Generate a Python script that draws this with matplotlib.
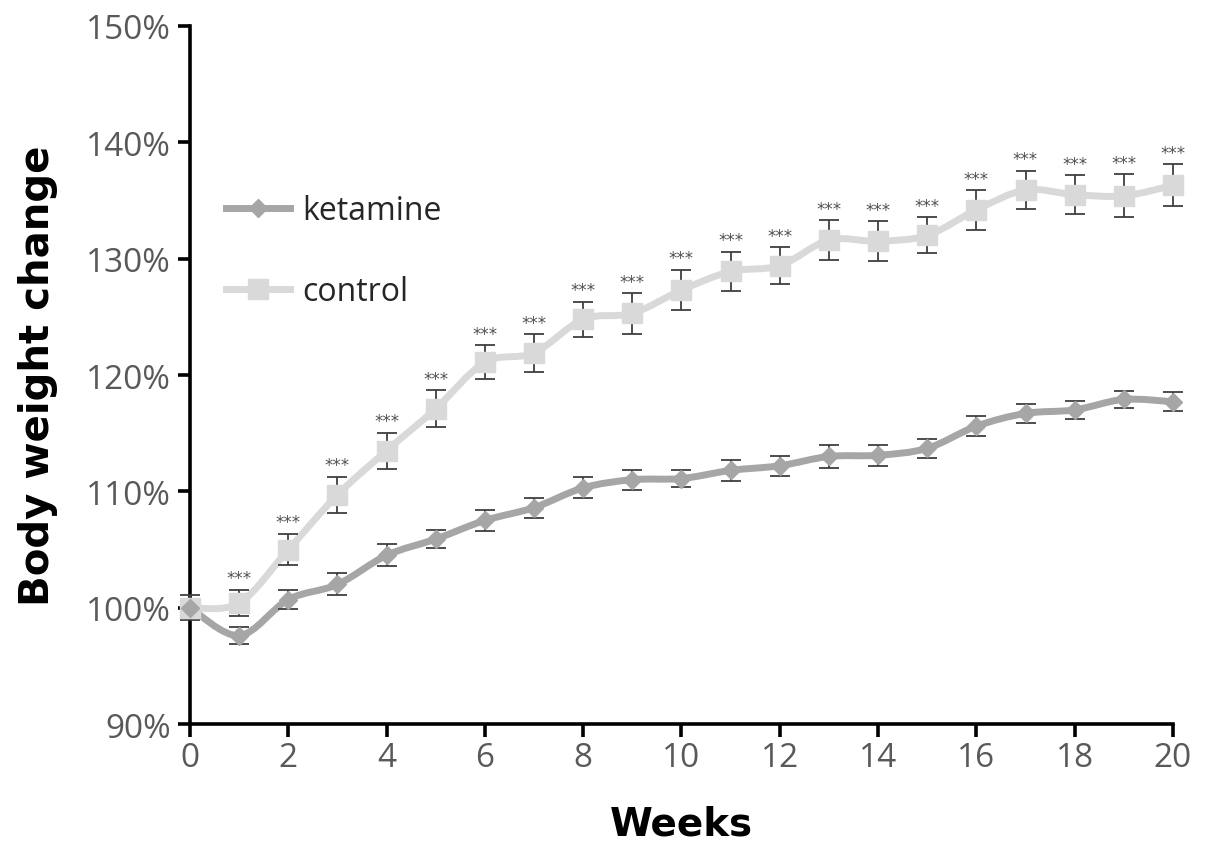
import numpy as np
import matplotlib
matplotlib.use("Agg")
from matplotlib import pyplot as plt
from matplotlib.path import Path
from matplotlib.patches import PathPatch
from matplotlib.ticker import FuncFormatter

weeks = list(range(21))
ketamine = [100.0, 97.6, 100.7, 102.0, 104.5, 105.9, 107.5, 108.6, 110.3, 111.0, 111.1,
            111.8, 112.2, 113.0, 113.1, 113.7, 115.6, 116.7, 117.0, 117.9, 117.7]
ketamine_err = [0.0, 0.7, 0.8, 0.95, 0.95, 0.8, 0.9, 0.85, 0.9, 0.85, 0.75,
                0.9, 0.85, 1.0, 0.9, 0.8, 0.85, 0.85, 0.8, 0.75, 0.8]
control = [100.0, 100.4, 105.0, 109.7, 113.5, 117.1, 121.1, 121.9, 124.8, 125.3, 127.3,
           128.9, 129.4, 131.6, 131.5, 132.0, 134.2, 135.9, 135.5, 135.4, 136.3]
control_err = [1.1, 1.15, 1.35, 1.55, 1.55, 1.6, 1.45, 1.6, 1.5, 1.75, 1.75,
               1.7, 1.6, 1.7, 1.7, 1.55, 1.7, 1.65, 1.7, 1.85, 1.8]
stars = [""] + ["***"] * 20

KET_COL = "#a6a6a6"
CON_COL = "#d9d9d9"
ERR_COL = "#3f3f3f"
TICK_COL = "#595959"


def smooth_path(x, y):
    # Excel-like smoothed line: Catmull-Rom segments as cubic Beziers
    pts = np.column_stack([x, y]).astype(float)
    verts = [pts[0]]
    codes = [Path.MOVETO]
    n = len(pts)
    for i in range(n - 1):
        p0 = pts[max(i - 1, 0)]
        p1 = pts[i]
        p2 = pts[i + 1]
        p3 = pts[min(i + 2, n - 1)]
        c1 = p1 + (p2 - p0) / 6.0
        c2 = p2 - (p3 - p1) / 6.0
        verts += [c1, c2, p2]
        codes += [Path.CURVE4] * 3
    return Path(verts, codes)


fig = plt.figure(figsize=(12.05, 8.62), dpi=100)
ax = fig.add_axes([0.1577, 0.1589, 0.8157, 0.8098])

for y, col in [(control, CON_COL), (ketamine, KET_COL)]:
    patch = PathPatch(smooth_path(weeks, y), facecolor="none", edgecolor=col,
                      lw=5, capstyle="round", joinstyle="round", clip_on=False, zorder=2)
    ax.add_patch(patch)

ax.errorbar(weeks, control, yerr=control_err, fmt="none", ecolor=ERR_COL,
            elinewidth=1.3, capsize=7, capthick=1.3, zorder=3, clip_on=False)
ax.errorbar(weeks, ketamine, yerr=ketamine_err, fmt="none", ecolor=ERR_COL,
            elinewidth=1.3, capsize=7, capthick=1.3, zorder=3, clip_on=False)

ax.plot(weeks, control, ls="none", marker="s", ms=14, color=CON_COL, mec=CON_COL,
        zorder=4, clip_on=False)
ax.plot(weeks, ketamine, ls="none", marker="D", ms=9, color=KET_COL, mec=KET_COL,
        zorder=4, clip_on=False)

for xw, yv, e, s in zip(weeks, control, control_err, stars):
    if s:
        ax.text(xw, yv + e + 0.2, s, ha="center", va="bottom", fontsize=12,
                color="#505050", family="DejaVu Sans")

# legend handles
ax.plot([], [], color=KET_COL, lw=5, marker="D", ms=9, label="ketamine")
ax.plot([], [], color=CON_COL, lw=5, marker="s", ms=14, label="control")
leg = ax.legend(loc="upper left", bbox_to_anchor=(0.007, 0.80), frameon=False,
                handlelength=2.0, labelspacing=1.5, handletextpad=0.4,
                prop={"family": "Open Sans", "size": 23})
for t in leg.get_texts():
    t.set_color("#262626")

ax.set_xlim(0, 20)
ax.set_ylim(90, 150)
ax.set_xticks(range(0, 21, 2))
ax.set_yticks(range(90, 151, 10))
ax.yaxis.set_major_formatter(FuncFormatter(lambda v, p: f"{v:.0f}%"))

for side in ["top", "right"]:
    ax.spines[side].set_visible(False)
for side in ["left", "bottom"]:
    ax.spines[side].set_linewidth(2.6)
    ax.spines[side].set_color("black")

ax.tick_params(axis="both", direction="out", length=9, width=2.6, color="black",
               labelsize=24, labelcolor=TICK_COL)
ax.tick_params(axis="y", pad=5)
ax.tick_params(axis="x", pad=3)
for lab in ax.get_xticklabels() + ax.get_yticklabels():
    lab.set_family("Open Sans")

ax.set_xlabel("Weeks", fontsize=28, fontweight="bold", labelpad=22, family="DejaVu Sans")
ax.set_ylabel("Body weight change", fontsize=29, fontweight="bold", labelpad=20,
              family="DejaVu Sans")

fig.savefig("out.png", dpi=100)
